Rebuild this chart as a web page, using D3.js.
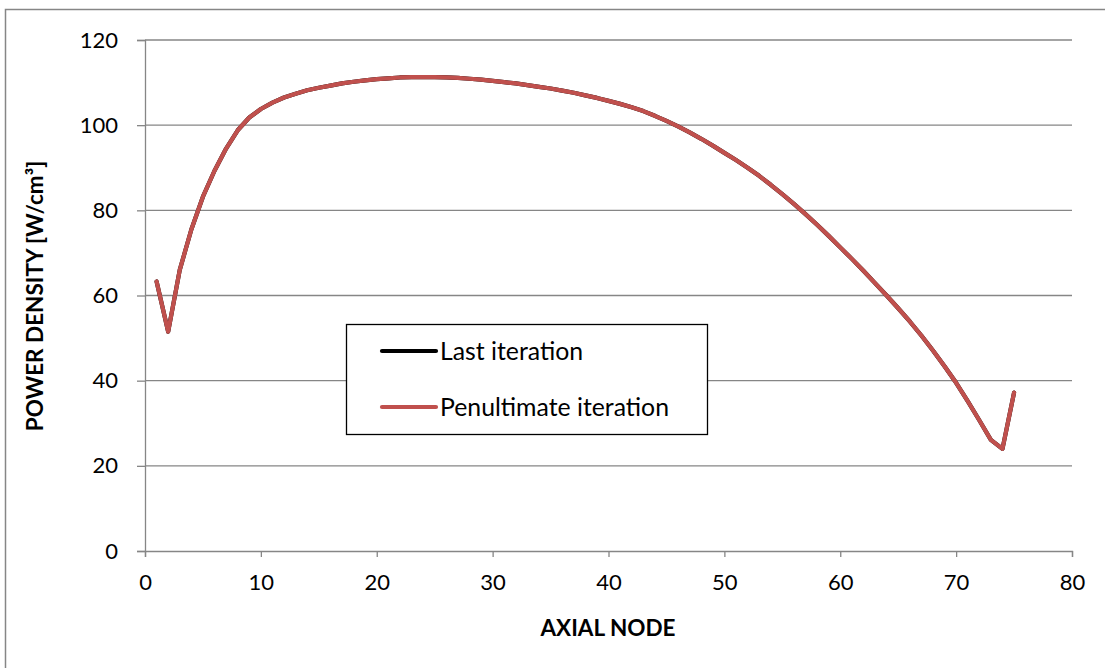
<!DOCTYPE html>
<html>
<head>
<meta charset="utf-8">
<script src="https://cdn.jsdelivr.net/npm/d3@7"></script>
<style>
  html, body { margin: 0; padding: 0; background: #fff; }
  svg { display: block; font-family: Lato, "Open Sans", sans-serif; }
</style>
</head>
<body>
<svg id="chart" width="1105" height="668"></svg>
<script>
// Axial power density profile, nodes 1..75
const nodes = d3.range(1, 76);
const lastIteration = [
  63.3, 51.5, 66.0, 75.5, 83.2, 89.3, 94.5, 98.8, 101.8, 103.8,
  105.3, 106.5, 107.4, 108.2, 108.8, 109.3, 109.8, 110.2, 110.5, 110.8,
  111.0, 111.2, 111.3, 111.3, 111.3, 111.2, 111.1, 110.9, 110.7, 110.4,
  110.1, 109.8, 109.4, 109.0, 108.6, 108.1, 107.6, 107.0, 106.4, 105.7,
  105.0, 104.2, 103.3, 102.2, 101.0, 99.7, 98.3, 96.8, 95.2, 93.5,
  91.8, 90.0, 88.1, 86.0, 83.8, 81.5, 79.1, 76.6, 74.0, 71.3,
  68.6, 65.8, 62.9, 60.0, 57.0, 53.9, 50.6, 47.1, 43.4, 39.5,
  35.2, 30.7, 26.1, 24.0, 37.2
];
const penultimateIteration = lastIteration.slice();

const seriesNames = ["Last iteration", "Penultimate iteration"];
const seriesColors = ["#000000", "#C0504D"];
const xTicks = [0, 10, 20, 30, 40, 50, 60, 70, 80];
const yTicks = [0, 20, 40, 60, 80, 100, 120];

const svg = d3.select("#chart");
const gray = "#868686";

// outer chart frame
svg.append("rect")
  .attr("x", 5.5).attr("y", 9.5)
  .attr("width", 1105).attr("height", 700)
  .attr("fill", "none").attr("stroke", gray).attr("stroke-width", 1.5);

const plot = { left: 145, right: 1072, top: 40, bottom: 551 };
const x = d3.scaleLinear().domain([0, 80]).range([plot.left, plot.right]);
const y = d3.scaleLinear().domain([0, 120]).range([plot.bottom, plot.top]);

// horizontal gridlines
svg.append("g")
  .selectAll("line")
  .data(yTicks.filter(v => v > 0))
  .join("line")
  .attr("x1", plot.left).attr("x2", plot.right)
  .attr("y1", d => y(d)).attr("y2", d => y(d))
  .attr("stroke", gray).attr("stroke-width", 1.3);

// y axis
const yAxis = svg.append("g")
  .attr("transform", `translate(${plot.left},0)`)
  .call(d3.axisLeft(y).tickValues(yTicks).tickSize(8).tickPadding(19).tickFormat(d3.format("d")));
yAxis.select(".domain").attr("stroke", gray).attr("stroke-width", 1.3);
yAxis.selectAll(".tick line").attr("stroke", gray).attr("stroke-width", 1.3);
yAxis.selectAll(".tick text")
  .attr("font-size", 22).attr("fill", "#000").attr("font-family", "Lato, sans-serif");

// x axis
const xAxis = svg.append("g")
  .attr("transform", `translate(0,${plot.bottom})`)
  .call(d3.axisBottom(x).tickValues(xTicks).tickSize(6).tickPadding(17).tickFormat(d3.format("d")));
xAxis.select(".domain").attr("stroke", gray).attr("stroke-width", 1.3);
xAxis.selectAll(".tick line").attr("stroke", gray).attr("stroke-width", 1.3);
xAxis.selectAll(".tick text")
  .attr("font-size", 22).attr("fill", "#000").attr("font-family", "Lato, sans-serif");

// axis titles
svg.append("text")
  .attr("x", 608).attr("y", 636)
  .attr("text-anchor", "middle")
  .attr("font-size", 22.5).attr("font-weight", "bold")
  .text("AXIAL NODE");

svg.append("text")
  .attr("transform", "translate(43,296) rotate(-90)")
  .attr("text-anchor", "middle")
  .attr("font-size", 22.5).attr("font-weight", "bold")
  .text("POWER DENSITY [W/cm³]");

// series lines
const line = d3.line()
  .x((d, i) => x(nodes[i]))
  .y(d => y(d));

[lastIteration, penultimateIteration].forEach((vals, k) => {
  svg.append("path")
    .datum(vals)
    .attr("d", line)
    .attr("fill", "none")
    .attr("stroke", seriesColors[k])
    .attr("stroke-width", 4.2)
    .attr("stroke-linejoin", "round")
    .attr("stroke-linecap", "round");
});

// legend
const legend = svg.append("g");
legend.append("rect")
  .attr("x", 346.5).attr("y", 324.5)
  .attr("width", 361).attr("height", 110)
  .attr("fill", "#fff").attr("stroke", "#000").attr("stroke-width", 1.3);

seriesNames.forEach((name, i) => {
  const cy = 351 + i * 56;
  legend.append("line")
    .attr("x1", 382).attr("x2", 436)
    .attr("y1", cy).attr("y2", cy)
    .attr("stroke", seriesColors[i]).attr("stroke-width", 4.2)
    .attr("stroke-linecap", "round");
  legend.append("text")
    .attr("x", 440).attr("y", cy)
    .attr("dy", "0.35em")
    .attr("font-size", 24.8)
    .text(name);
});
</script>
</body>
</html>
